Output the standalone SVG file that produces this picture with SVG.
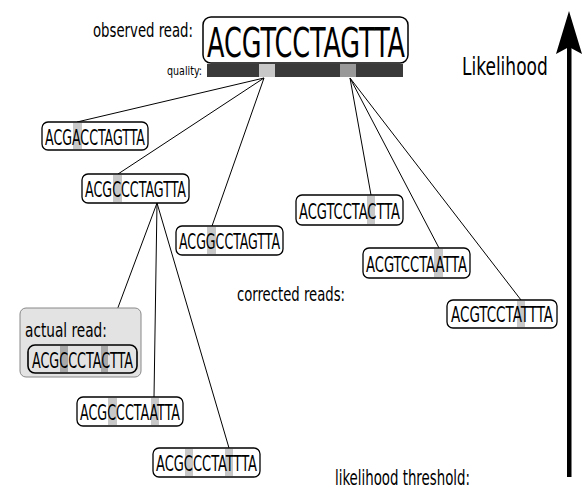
<svg xmlns="http://www.w3.org/2000/svg" width="586" height="489" viewBox="0 0 586 489">
<style>
text{font-family:"DejaVu Sans Condensed","DejaVu Sans",sans-serif;fill:#000}
.box{fill:#fff;stroke:#000;stroke-width:1.3}
.hl{fill:#c8c8c8}
.hl2{fill:#a8a8a8}
.seq{font-size:21px}
.lbl{font-size:19px}
.ln{stroke:#000;stroke-width:1;fill:none}
</style>
<rect width="586" height="489" fill="#fff"/>
<g id="connectors">
<line class="ln" x1="264" y1="78" x2="77" y2="122"/>
<line class="ln" x1="264" y1="78" x2="118" y2="174"/>
<line class="ln" x1="264" y1="78" x2="212" y2="226"/>
<line class="ln" x1="350" y1="78" x2="371" y2="195"/>
<line class="ln" x1="350" y1="78" x2="439" y2="248"/>
<line class="ln" x1="350" y1="78" x2="521" y2="300"/>
<line class="ln" x1="157" y1="203" x2="104" y2="345"/>
<line class="ln" x1="157" y1="203" x2="154" y2="397"/>
<line class="ln" x1="157" y1="203" x2="229" y2="448"/>
</g>
<g id="observed">
<text transform="translate(93 37) scale(0.66 1)" font-size="20" textLength="151.5" lengthAdjust="spacingAndGlyphs">observed read:</text>
<rect x="203" y="17" width="205" height="46" rx="8" fill="#fff" stroke="#000" stroke-width="1.5"/>
<text transform="translate(207 57) scale(0.66 1)" font-size="41" textLength="300" lengthAdjust="spacingAndGlyphs">ACGTCCTAGTTA</text>
</g>
<g id="quality">
<text transform="translate(202 75) scale(0.66 1)" font-size="12" text-anchor="end" textLength="53" lengthAdjust="spacingAndGlyphs">quality:</text>
<rect x="207" y="64" width="196" height="13" fill="#3a3a3a"/>
<rect x="259" y="64" width="16" height="13" fill="#c8c8c8"/>
<rect x="340" y="64" width="16" height="13" fill="#999"/>
</g>
<g id="n1">
<rect class="box" x="42" y="122" width="106" height="28" rx="6"/>
<rect class="hl" x="73" y="123" width="9" height="26"/>
<text class="seq" transform="translate(45 145) scale(0.66 1)" textLength="151.5" lengthAdjust="spacingAndGlyphs">ACGACCTAGTTA</text>
</g>
<g id="n2">
<rect class="box" x="82" y="174" width="107" height="29" rx="6"/>
<rect class="hl" x="113" y="175" width="9" height="27"/>
<text class="seq" transform="translate(85 197) scale(0.66 1)" textLength="153" lengthAdjust="spacingAndGlyphs">ACGCCCTAGTTA</text>
</g>
<g id="n3">
<rect class="box" x="176" y="226" width="107" height="29" rx="6"/>
<rect class="hl" x="207" y="227" width="9" height="27"/>
<text class="seq" transform="translate(179 249) scale(0.66 1)" textLength="153" lengthAdjust="spacingAndGlyphs">ACGGCCTAGTTA</text>
</g>
<g id="n4">
<rect class="box" x="296" y="195" width="107" height="30" rx="6"/>
<rect class="hl" x="367" y="196" width="8" height="28"/>
<text class="seq" transform="translate(299 219) scale(0.66 1)" textLength="153" lengthAdjust="spacingAndGlyphs">ACGTCCTACTTA</text>
</g>
<g id="n5">
<rect class="box" x="363" y="248" width="107" height="30" rx="6"/>
<rect class="hl" x="434" y="249" width="9" height="28"/>
<text class="seq" transform="translate(366 272) scale(0.66 1)" textLength="153" lengthAdjust="spacingAndGlyphs">ACGTCCTAATTA</text>
</g>
<g id="n6">
<rect class="box" x="447" y="300" width="110" height="28" rx="6"/>
<rect class="hl" x="517" y="301" width="8" height="26"/>
<text class="seq" transform="translate(451 322) scale(0.66 1)" textLength="154.5" lengthAdjust="spacingAndGlyphs">ACGTCCTATTTA</text>
</g>
<g id="actual">
<rect x="20" y="308" width="121" height="69" rx="6" fill="#e3e3e3" stroke="#888" stroke-width="1"/>
<text class="lbl" transform="translate(25 337) scale(0.66 1)" textLength="124" lengthAdjust="spacingAndGlyphs">actual read:</text>
<rect x="28" y="345" width="109" height="28" rx="7" fill="#e3e3e3" stroke="#000" stroke-width="1.6"/>
<rect class="hl2" x="60" y="346" width="8" height="26"/>
<rect class="hl2" x="101" y="346" width="7" height="26"/>
<text class="seq" transform="translate(32 368) scale(0.66 1)" textLength="153" lengthAdjust="spacingAndGlyphs">ACGCCCTACTTA</text>
</g>
<g id="n8">
<rect class="box" x="77" y="397" width="106" height="29" rx="6"/>
<rect class="hl" x="108" y="398" width="9" height="27"/>
<rect class="hl" x="151" y="398" width="8" height="27"/>
<text class="seq" transform="translate(80 420) scale(0.66 1)" textLength="151.5" lengthAdjust="spacingAndGlyphs">ACGCCCTAATTA</text>
</g>
<g id="n9">
<rect class="box" x="153" y="448" width="107" height="29" rx="6"/>
<rect class="hl" x="185" y="449" width="8" height="27"/>
<rect class="hl" x="225" y="449" width="8" height="27"/>
<text class="seq" transform="translate(156 471) scale(0.66 1)" textLength="153" lengthAdjust="spacingAndGlyphs">ACGCCCTATTTA</text>
</g>
<g id="labels">
<text class="lbl" transform="translate(237 301) scale(0.66 1)" textLength="163.6" lengthAdjust="spacingAndGlyphs">corrected reads:</text>
<text transform="translate(335 485) scale(0.66 1)" font-size="21" textLength="204.5" lengthAdjust="spacingAndGlyphs">likelihood threshold:</text>
<text transform="translate(462 75) scale(0.66 1)" font-size="25" textLength="130" lengthAdjust="spacingAndGlyphs">Likelihood</text>
</g>
<g id="axis">
<rect x="567" y="45" width="4.5" height="432" fill="#000"/>
<path d="M569,11 L582,54 L569,47 L556,54 Z" fill="#000"/>
</g>
</svg>
